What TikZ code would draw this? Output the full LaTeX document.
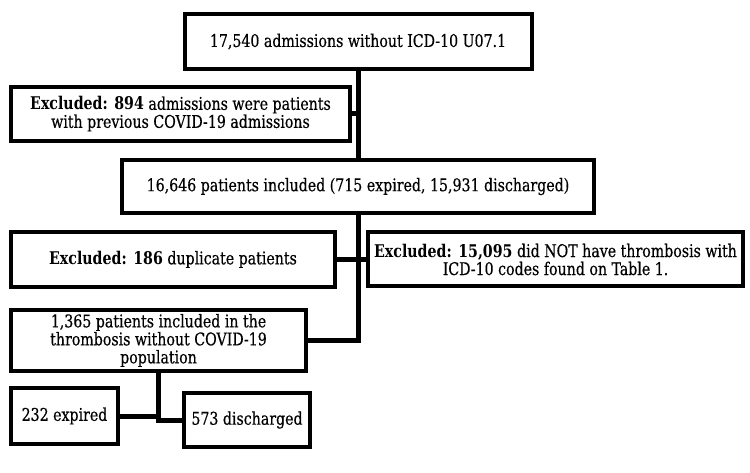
\documentclass[tikz,border=0pt]{standalone}
\usepackage{fontspec}
\setmainfont[FakeStretch=0.9,UprightFeatures={FakeBold=0.4}]{DejaVu Serif Condensed}
\begin{document}
\begin{tikzpicture}[x=1pt,y=-1pt,
  box/.style={draw=black,line width=4pt,fill=white,align=center,inner sep=0pt,
    font=\fontsize{17.5}{18}\selectfont},
  conn/.style={draw=black,line width=5pt}]
\useasboundingbox[fill=white] (0,0) rectangle (750,473);
\node[box,minimum width=347pt,minimum height=55pt] (top) at (358,41.5)
  {17,540 admissions without ICD-10 U07.1};
\node[box,minimum width=339pt,minimum height=54pt] (e894) at (180.5,114)
  {\textbf{Excluded: 894} admissions were patients\\with previous COVID-19 admissions};
\node[box,minimum width=472pt,minimum height=53pt] (n16646) at (358,186.5)
  {16,646 patients included (715 expired, 15,931 discharged)};
\node[box,minimum width=324pt,minimum height=55pt] (e186) at (173,259.5)
  {\textbf{Excluded: 186} duplicate patients};
\node[box,minimum width=375pt,minimum height=54pt] (e15095) at (555.5,259.5)
  {\textbf{Excluded: 15,095} did NOT have thrombosis with\\ICD-10 codes found on Table 1.};
\node[box,minimum width=295pt,minimum height=61pt] (n1365) at (158.5,340.5)
  {1,365 patients included in the\\thrombosis without COVID-19\\population};
\node[box,minimum width=107pt,minimum height=56pt] (e232) at (64.5,416)
  {232 expired};
\node[box,minimum width=126pt,minimum height=54pt] (d573) at (247,420)
  {573 discharged};
\draw[conn] (top.south) -- (n16646.north);
\draw[conn] (e894.east) -- (e894.east -| top.south);
\draw[conn] (e186.east) -- (e15095.west);
\draw[conn] (n16646.south) |- (n1365.east);
\draw[conn] (n1365.south) -- (n1365.south |- d573.west) -- (d573.west);
\draw[conn] (e232.east) -- (e232.east -| n1365.south);
\end{tikzpicture}
\end{document}
